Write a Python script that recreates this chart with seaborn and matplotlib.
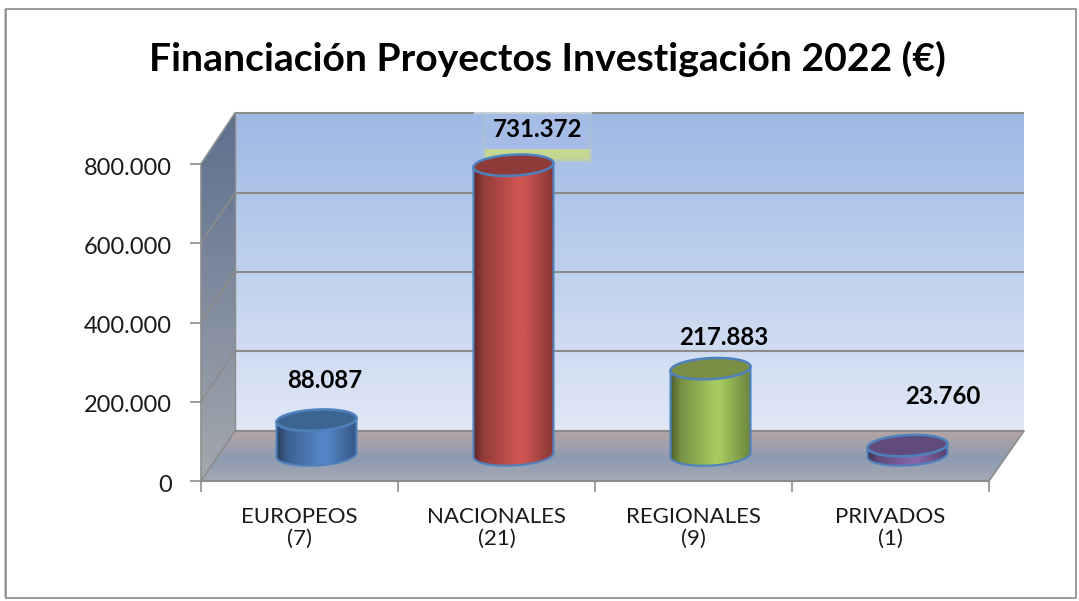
import numpy as np
import matplotlib
matplotlib.use("Agg")
import matplotlib.pyplot as plt
from matplotlib.patches import Polygon, Rectangle
from matplotlib.ticker import FuncFormatter
from matplotlib.transforms import ScaledTranslation
import seaborn as sns

# data
categories = ["EUROPEOS\n(7)", "NACIONALES\n(21)", "REGIONALES\n(9)", "PRIVADOS\n(1)"]
values = [88087, 731372, 217883, 23760]
y_ticks = [0, 200000, 400000, 600000, 800000]
title = "Financiación Proyectos Investigación 2022 (€)"

# colours for each cylinder: side and top face
side_colors = ["#5485c8", "#cf5553", "#a7ca60", "#8666ab"]
top_colors = ["#3d6592", "#8f3b39", "#7a8f45", "#614a7c"]
edge_color = "#4f81bd"
grid_color = "#8c8c8c"

W, H = 1079, 601
Y_MAX = 800000

sns.set_theme(style="white")
plt.rcParams["font.family"] = ["Lato", "DejaVu Sans"]


def fmt(v):
    return f"{int(v):,}".replace(",", ".")


def px_axes(fig, left, top, right, bottom):
    ax = fig.add_axes([left / W, 1 - bottom / H, (right - left) / W, (bottom - top) / H])
    ax.patch.set_alpha(0)
    return ax


def v_gradient(ax, colors, stops, extent, clip):
    # vertical gradient clipped to a polygon
    t = np.linspace(0, 1, 200)
    rgb = np.array([matplotlib.colors.to_rgb(c) for c in colors])
    img = np.stack([np.interp(t, stops, rgb[:, i]) for i in range(3)], axis=1)[:, None, :]
    im = ax.imshow(img, extent=extent, aspect="auto", origin="upper", zorder=1)
    poly = Polygon(clip, transform=ax.transData, fc="none", ec="none")
    ax.add_patch(poly)
    im.set_clip_path(poly)


fig = plt.figure(figsize=(W / 100, H / 100), dpi=100)
fig.patch.set_facecolor("white")

# background layer in pixel coordinates: frame and 3D walls
bg = fig.add_axes([0, 0, 1, 1])
bg.axis("off")

bg.add_patch(Rectangle((4, 9), 2, 589, fc="#c4c4c4", ec="none"))
bg.add_patch(Rectangle((6, 9), 1070, 589, fc="white", ec="#8a8a8a", lw=1.2))

v_gradient(bg, ["#9fb9e5", "#e0e8f6"], [0, 1], (235, 1024, 431, 113),
           [(235, 113), (1024, 113), (1024, 431), (235, 431)])
v_gradient(bg, ["#5c6f8e", "#a4a8ae"], [0, 1], (201, 235, 481, 113),
           [(201, 164), (235, 113), (235, 431), (201, 481)])
v_gradient(bg, ["#b5a5a5", "#8d9bb1", "#a6a9b6"], [0, 0.55, 1], (201, 1024, 481, 431),
           [(201, 481), (235, 431), (1024, 431), (989, 481)])
bg.set_xlim(0, W)
bg.set_ylim(H, 0)

for gy in [113, 193, 272, 351, 431]:
    bg.plot([235, 1024], [gy, gy], color=grid_color, lw=1.5, zorder=2, solid_capstyle="butt")
for fy, gy in zip([164, 243, 322, 401, 481], [113, 193, 272, 351, 431]):
    bg.plot([201, 235], [fy, gy], color=grid_color, lw=1.2, zorder=2)
bg.plot([235, 235], [113, 431], color=grid_color, lw=1.0, zorder=2)
bg.plot([201, 201], [164, 481], color=grid_color, lw=1.2, zorder=2)
bg.plot([989, 1024], [481, 431], color=grid_color, lw=1.2, zorder=2)

# highlight behind the 731.372 label
bg.add_patch(Rectangle((474, 112), 118, 2, fc="#c9cfd6", ec="none", zorder=3))
for pad, a in [(4, 0.10), (2, 0.15)]:
    bg.add_patch(Rectangle((486 - pad, 113), 103 + 2 * pad, 46 + pad,
                           fc="#c5d0b0", ec="none", alpha=a, zorder=3))
bg.add_patch(Rectangle((486, 114), 103, 35, fc="#a5bce6", ec="none", zorder=3))
for pad, a in [(3, 0.25), (1.5, 0.35), (0, 1)]:
    bg.add_patch(Rectangle((486 - pad, 149), 103 + 2 * pad, 10 + pad,
                           fc="#c5d893", ec="none", alpha=a, zorder=3))

# front axis with ticks and labels
front = px_axes(fig, 201, 164, 989, 481)
front.set_xlim(0, 4)
front.set_ylim(0, Y_MAX)
front.set_yticks(y_ticks)
front.yaxis.set_major_formatter(FuncFormatter(lambda v, _: fmt(v)))
front.set_xticks(range(5))
front.set_xticklabels([])
front.set_xticks(np.arange(4) + 0.5, labels=categories, minor=True)
front.tick_params(axis="x", which="major", direction="out", length=8, width=1.2,
                  color=grid_color, bottom=True)
front.tick_params(axis="x", which="minor", length=0, pad=19, labelsize=16, labelcolor="#1a1a1a")
front.tick_params(axis="y", direction="out", length=8, width=1.2, color=grid_color, left=True,
                  pad=13, labelsize=17, labelcolor="#1a1a1a")
for label in front.get_xticklabels(minor=True):
    label.set_linespacing(1.1)
shift = ScaledTranslation(0, -1.5 / 72, fig.dpi_scale_trans)
for label in front.get_yticklabels():
    label.set_transform(label.get_transform() + shift)
sns.despine(ax=front, top=True, right=True, left=True)
front.spines["bottom"].set_color(grid_color)
front.spines["bottom"].set_linewidth(1.5)

# cylinders sit half way back on the floor
ax = px_axes(fig, 218, 138, 1006, 455)
sns.barplot(x=categories, y=values, hue=categories, palette=side_colors, width=0.406,
            dodge=False, legend=False, linewidth=0, ax=ax)
ax.axis("off")

ry = 10.5 * Y_MAX / 317    # half height of the ellipse, in data units
skew = 2.0 * Y_MAX / 317   # tilt of the ellipse, right end higher

bars = sorted(ax.patches, key=lambda p: p.get_x())
label_offsets = [(8, 40), (24, 36), (13, 31), (35, 49)]
for bar, value, side, top, off in zip(bars, values, side_colors, top_colors, label_offsets):
    x0 = bar.get_x()
    w = bar.get_width()
    cx = x0 + w / 2
    t = np.linspace(0, 2 * np.pi, 120)
    rim = np.column_stack([cx + np.cos(t) * w / 2, value + np.sin(t) * ry + skew * np.cos(t)])

    # base arc from the left end to the right end, then up the right side and down the left
    a = np.linspace(np.pi, 2 * np.pi, 60)
    base = np.column_stack([cx + np.cos(a) * w / 2, np.sin(a) * ry + skew * np.cos(a)])
    outline = np.vstack([[[x0, value - skew]], base, [[x0 + w, value + skew]]])

    # side shading, dark at both edges and lightest right of the middle
    rgb = np.array(matplotlib.colors.to_rgb(side))
    s = np.linspace(0, 1, 120)
    shade = np.interp(s, [0, 0.12, 0.55, 0.62, 1], [0.48, 0.72, 1, 1, 0.65])
    img = (shade[:, None] * rgb)[None, :, :]
    im = ax.imshow(img, extent=(x0, x0 + w, -2 * ry, value + 2 * ry), aspect="auto", zorder=3)
    body_patch = Polygon(outline, closed=True, fc="none", ec=edge_color, lw=1.5, zorder=4,
                         clip_on=False)
    ax.add_patch(body_patch)
    im.set_clip_box(fig.bbox)
    im.set_clip_path(body_patch)
    bar.set_visible(False)

    ax.add_patch(Polygon(rim, closed=True, fc=top, ec=edge_color, lw=1.8, zorder=5, clip_on=False))
    ax.annotate(fmt(value), xy=(cx, value), xytext=off, textcoords="offset pixels",
                ha="center", va="center", fontsize=17.3, fontweight="bold", color="black",
                annotation_clip=False, zorder=6)
ax.set_xlim(-0.5, 3.5)
ax.set_ylim(0, Y_MAX)

bg.text(547, 59, title, ha="center", va="center", fontsize=28.2, fontweight="bold", color="black")

fig.savefig("out.png", dpi=100)
